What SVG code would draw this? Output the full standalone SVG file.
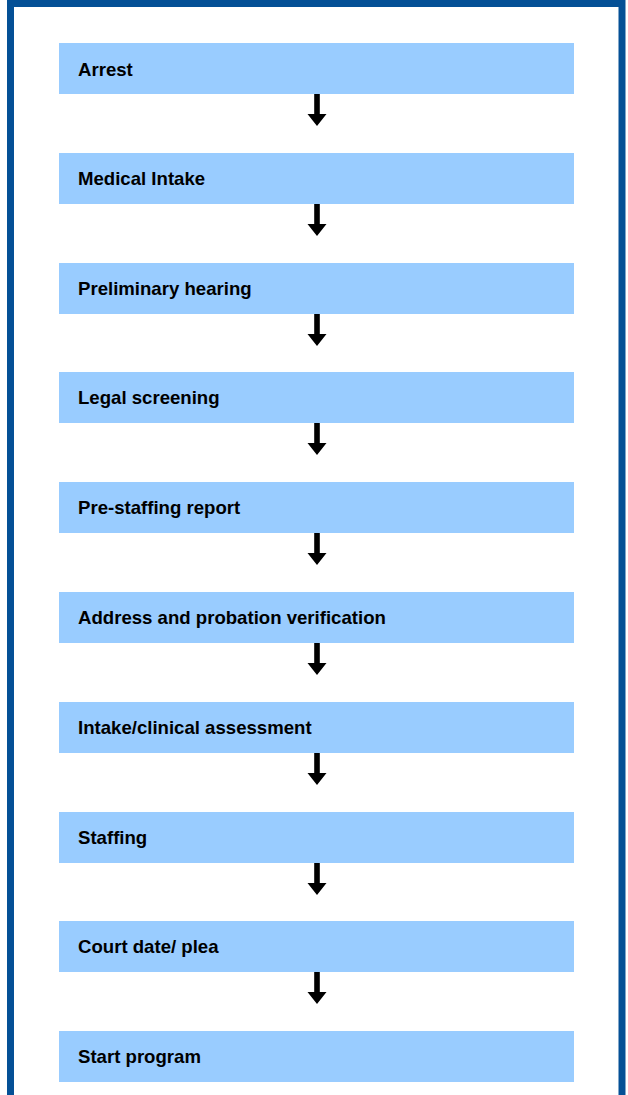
<svg xmlns="http://www.w3.org/2000/svg" width="628" height="1095" viewBox="0 0 628 1095">
<defs>
<style>
.box{fill:#99ccff}
.lbl{font-family:"Liberation Sans",Arial,sans-serif;font-weight:bold;font-size:18.6px;fill:#000}
.arr{fill:#000}
</style>
<path id="ar" d="M-2.8,0 H2.8 V20 H9.5 L0,32 L-9.5,20 H-2.8 Z"/>
</defs>
<rect x="0" y="0" width="628" height="1095" fill="#ffffff"/>
<path d="M10.5,1095 V3.5 H622 V1095" fill="none" stroke="#045096" stroke-width="7"/>
<g id="n1"><rect class="box" x="59" y="43" width="515" height="51"/><text class="lbl" x="78" y="75.5">Arrest</text></g>
<g id="n2"><rect class="box" x="59" y="153" width="515" height="51"/><text class="lbl" x="78" y="185">Medical Intake</text></g>
<g id="n3"><rect class="box" x="59" y="263" width="515" height="51"/><text class="lbl" x="78" y="295">Preliminary hearing</text></g>
<g id="n4"><rect class="box" x="59" y="372" width="515" height="51"/><text class="lbl" x="78" y="404">Legal screening</text></g>
<g id="n5"><rect class="box" x="59" y="482" width="515" height="51"/><text class="lbl" x="78" y="514">Pre-staffing report</text></g>
<g id="n6"><rect class="box" x="59" y="592" width="515" height="51"/><text class="lbl" x="78" y="624">Address and probation verification</text></g>
<g id="n7"><rect class="box" x="59" y="702" width="515" height="51"/><text class="lbl" x="78" y="734">Intake/clinical assessment</text></g>
<g id="n8"><rect class="box" x="59" y="812" width="515" height="51"/><text class="lbl" x="78" y="844">Staffing</text></g>
<g id="n9"><rect class="box" x="59" y="921" width="515" height="51"/><text class="lbl" x="78" y="953">Court date/ plea</text></g>
<g id="n10"><rect class="box" x="59" y="1031" width="515" height="51"/><text class="lbl" x="78" y="1063">Start program</text></g>
<g id="connectors" class="arr">
<use href="#ar" x="317" y="94"/>
<use href="#ar" x="317" y="204"/>
<use href="#ar" x="317" y="314"/>
<use href="#ar" x="317" y="423"/>
<use href="#ar" x="317" y="533"/>
<use href="#ar" x="317" y="643"/>
<use href="#ar" x="317" y="753"/>
<use href="#ar" x="317" y="863"/>
<use href="#ar" x="317" y="972"/>
</g>
</svg>
